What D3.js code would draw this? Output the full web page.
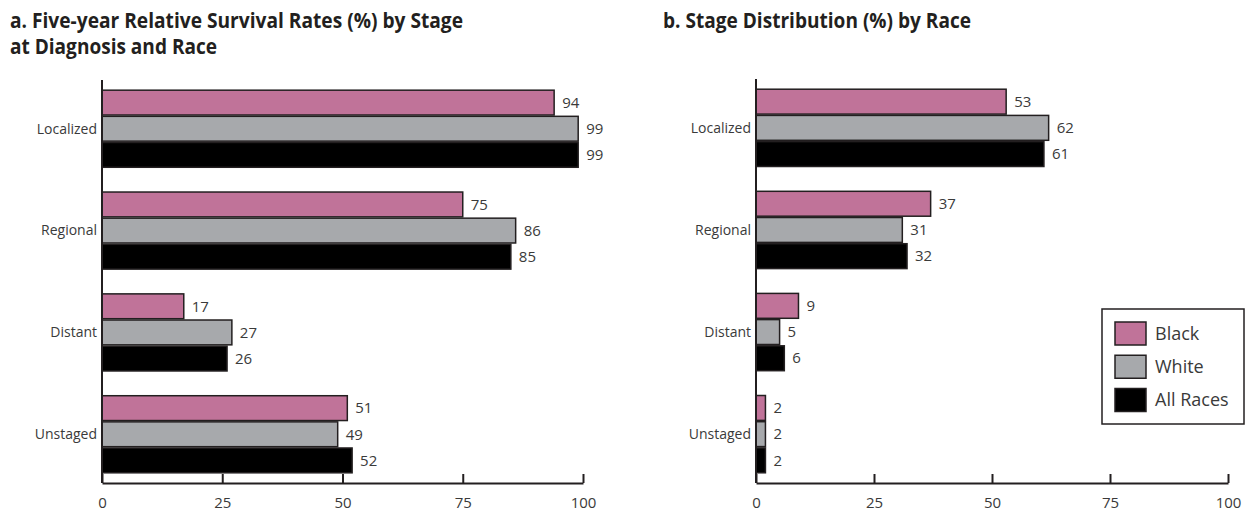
<!DOCTYPE html>
<html>
<head>
<meta charset="utf-8">
<script src="https://cdn.jsdelivr.net/npm/d3@7"></script>
<style>
  body { margin: 0; background: #fff; }
  svg { display: block; }
  text { font-family: "Liberation Sans Narrow", "Open Sans", "DejaVu Sans Condensed", sans-serif; }
</style>
</head>
<body>
<svg id="chart" width="1256" height="513"></svg>
<script>
const categories = ["Localized", "Regional", "Distant", "Unstaged"];
const seriesNames = ["Black", "White", "All Races"];
const survivalBlack = [94, 75, 17, 51];
const survivalWhite = [99, 86, 27, 49];
const survivalAll = [99, 85, 26, 52];
const distBlack = [53, 37, 9, 2];
const distWhite = [62, 31, 5, 2];
const distAll = [61, 32, 6, 2];
const tickValues = [0, 25, 50, 75, 100];
const colors = ["#c07399", "#a7a9ac", "#000000"];

const svg = d3.select("#chart");

function fitText(sel, width) {
  sel.attr("textLength", width).attr("lengthAdjust", "spacingAndGlyphs");
}

// Titles
const t1 = svg.append("text").attr("x", 10).attr("y", 28)
  .attr("font-size", 20.5).attr("font-weight", "bold").attr("fill", "#231f20")
  .text("a. Five-year Relative Survival Rates (%) by Stage");
fitText(t1, 453);
const t2 = svg.append("text").attr("x", 10).attr("y", 54)
  .attr("font-size", 20.5).attr("font-weight", "bold").attr("fill", "#231f20")
  .text("at Diagnosis and Race");
fitText(t2, 207);
const t3 = svg.append("text").attr("x", 663).attr("y", 28)
  .attr("font-size", 20.5).attr("font-weight", "bold").attr("fill", "#231f20")
  .text("b. Stage Distribution (%) by Race");
fitText(t3, 308);

function panel(x0, x1, yTop, yBot, seriesData) {
  const g = svg.append("g");
  const x = d3.scaleLinear().domain([0, 100]).range([x0, x1]);
  const y = d3.scaleBand().domain(categories).range([yTop, yBot])
    .paddingInner(0.243).paddingOuter(0.1);
  const yi = d3.scaleBand().domain(seriesNames).range([0, y.bandwidth()]).paddingInner(0.05);

  const rows = [];
  categories.forEach((c, ci) => {
    seriesNames.forEach((s, si) => {
      rows.push({ cat: c, ser: s, si: si, v: seriesData[si][ci] });
    });
  });

  g.selectAll("rect.bar").data(rows).enter().append("rect")
    .attr("class", "bar")
    .attr("x", x(0))
    .attr("y", d => y(d.cat) + yi(d.ser))
    .attr("width", d => x(d.v) - x(0))
    .attr("height", yi.bandwidth())
    .attr("fill", d => colors[d.si])
    .attr("stroke", "#231f20")
    .attr("stroke-width", 1.5);

  g.selectAll("text.val").data(rows).enter().append("text")
    .attr("class", "val")
    .attr("x", d => x(d.v) + 8)
    .attr("y", d => y(d.cat) + yi(d.ser) + yi.bandwidth() / 2)
    .attr("dy", "0.35em")
    .attr("font-size", 15)
    .attr("fill", "#3a3a3a")
    .text(d => d.v);

  // category labels
  g.selectAll("text.cat").data(categories).enter().append("text")
    .attr("class", "cat")
    .attr("x", x0 - 5)
    .attr("y", d => y(d) + y.bandwidth() / 2)
    .attr("dy", "0.35em")
    .attr("text-anchor", "end")
    .attr("font-size", 14)
    .attr("fill", "#3a3a3a")
    .text(d => d);

  // vertical axis line
  g.append("line").attr("x1", x0).attr("x2", x0).attr("y1", yTop).attr("y2", yBot)
    .attr("stroke", "#231f20").attr("stroke-width", 2);

  // x axis with upward ticks
  const ax = d3.axisBottom(x).tickValues(tickValues).tickSize(-9).tickPadding(14).tickSizeOuter(0);
  const axg = g.append("g").attr("transform", `translate(0,${yBot})`).call(ax);
  axg.select(".domain").attr("stroke", "#231f20").attr("stroke-width", 2);
  axg.selectAll(".tick line").attr("stroke", "#231f20").attr("stroke-width", 2);
  axg.selectAll(".tick text").attr("font-size", 15).attr("fill", "#3a3a3a")
    .attr("font-family", "\"Liberation Sans Narrow\", \"Open Sans\", sans-serif");
  return g;
}

panel(102, 583, 80, 483, [survivalBlack, survivalWhite, survivalAll]);
panel(756, 1228, 79, 483, [distBlack, distWhite, distAll]);

// Legend
const lg = svg.append("g");
lg.append("rect").attr("x", 1102).attr("y", 309).attr("width", 142).attr("height", 115)
  .attr("fill", "#fff").attr("stroke", "#231f20").attr("stroke-width", 1.5);
const ly = d3.scalePoint().domain(seriesNames).range([333.5, 400]);
lg.selectAll("rect.sw").data(seriesNames).enter().append("rect")
  .attr("class", "sw")
  .attr("x", 1115).attr("y", d => ly(d) - 11.5)
  .attr("width", 31).attr("height", 23)
  .attr("fill", (d, i) => colors[i])
  .attr("stroke", "#231f20").attr("stroke-width", 1.5);
lg.selectAll("text.lt").data(seriesNames).enter().append("text")
  .attr("class", "lt")
  .attr("x", 1155).attr("y", d => ly(d))
  .attr("dy", "0.35em")
  .attr("font-size", 18)
  .attr("fill", "#3a3a3a")
  .text(d => d);
</script>
</body>
</html>
